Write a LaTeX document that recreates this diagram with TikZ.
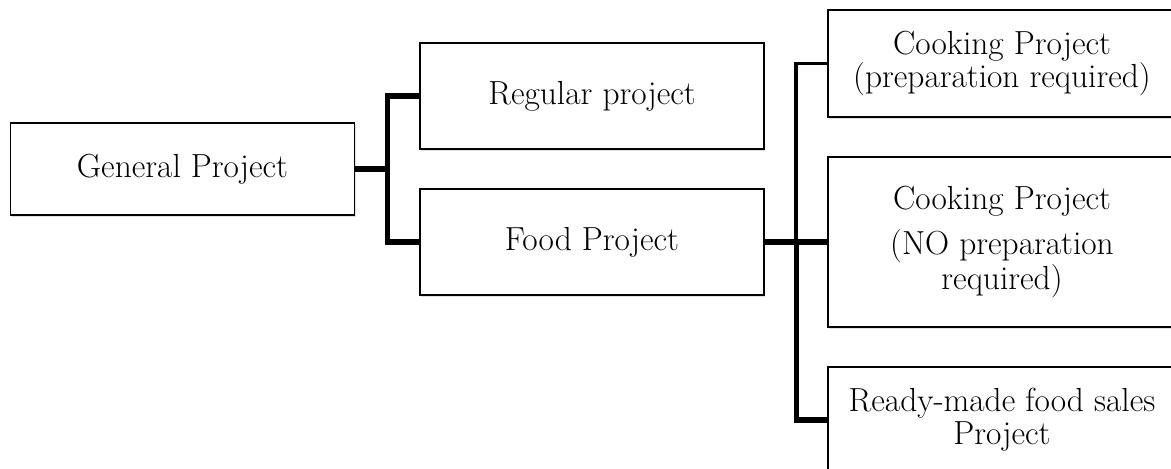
\documentclass[tikz,border=0pt]{standalone}
\usepackage{fontspec}
\usetikzlibrary{shadows}
\begin{document}
\begin{tikzpicture}[x=0.02cm, y=-0.02cm,
    projbox/.style={draw, line width=0.8pt, fill=white, align=center,
      minimum width=6.88cm, inner sep=2pt,
      font=\fontsize{19}{18.6}\selectfont,
      drop shadow={shadow xshift=0.7pt, shadow yshift=-0.9pt, opacity=0.25}},
    link/.style={line width=2.9pt}]
         \useasboundingbox (0,0) rectangle (1171,469);
         \node [projbox, minimum height=1.84cm] (GP) at (182.5, 169) {General Project};
         \node [projbox, minimum height=2.12cm] (RP) at (592, 96) {Regular project};
         \node [projbox, minimum height=2.12cm] (FP) at (592, 242) {Food Project};
         \node [projbox, minimum width=6.96cm, minimum height=2.14cm] (CP1) at (1002, 63.5) {Cooking Project\\(preparation required)};
         \node [projbox, minimum width=6.96cm, minimum height=3.4cm] (CP2) at (1002, 242) {Cooking Project\\[0.25cm](NO preparation\\required)};
         \node [projbox, minimum width=6.96cm, minimum height=2.12cm] (RM) at (1002, 420) {Ready-made food sales\\Project};
         \draw [link] (GP.east) -- ++(32, 0) |- (RP.west);
         \draw [link] (GP.east) -- ++(32, 0) |- (FP.west);
         \draw [link] (FP.east) -- (CP2.west);
         \draw [link, line width=2.1pt] (CP1.west) -- ++(-31, 0) -- ++(0, 178.5);
         \draw [link] (RM.west) -- ++(-31, 0) -- ++(0, -180);
\end{tikzpicture}
\end{document}
